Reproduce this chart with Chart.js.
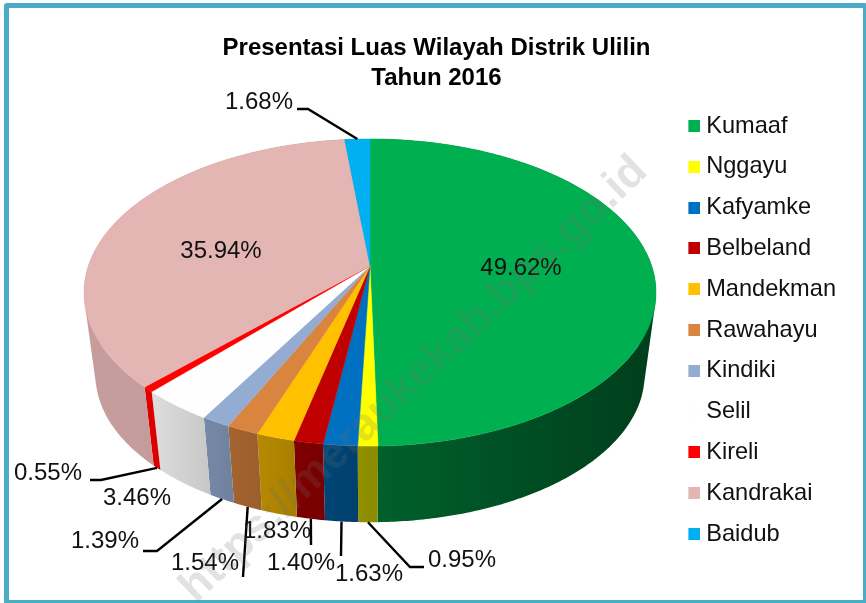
<!DOCTYPE html>
<html>
<head>
<meta charset="utf-8">
<title>Presentasi Luas Wilayah Distrik Ulilin</title>
<script src="https://cdn.jsdelivr.net/npm/chart.js@4"></script>
<style>
html, body { margin: 0; padding: 0; background: #fff; overflow: hidden; }
#frame { position: absolute; left: 4px; top: 3px; width: 854px; height: 592px; border: 5px solid #4bacc6; border-radius: 3px; }
#wrap { position: absolute; left: 0; top: 0; width: 866px; height: 603px; }
</style>
</head>
<body>
<div id="frame"></div>
<div id="wrap"><canvas id="pieChart" width="866" height="603"></canvas></div>
<script>
const categories = ['Kumaaf', 'Nggayu', 'Kafyamke', 'Belbeland', 'Mandekman', 'Rawahayu', 'Kindiki', 'Selil', 'Kireli', 'Kandrakai', 'Baidub'];
const percentages = [49.62, 0.95, 1.63, 1.40, 1.83, 1.54, 1.39, 3.46, 0.55, 35.94, 1.68];
const sliceColors = ['#00b050', '#ffff00', '#0070c0', '#c00000', '#ffc000', '#d9843f', '#95acd2', '#fefefe', '#ff0000', '#e3b5b3', '#00b0f0'];
const titleLines = ['Presentasi Luas Wilayah Distrik Ulilin', 'Tahun 2016'];

// where each percent label sits, and the bend of its leader line (null = no leader)
const labelSpots = [
    { x: 521, y: 268 }, { x: 462, y: 560, bend: [[424, 567], [410, 567]] }, { x: 369, y: 574, bend: [[341, 556]] },
    { x: 301, y: 563, bend: [[311, 545]] }, { x: 277, y: 531 }, { x: 205, y: 563, bend: [[243, 577]] },
    { x: 105, y: 541, bend: [[143, 551], [157, 551]] }, { x: 137, y: 498 }, { x: 48, y: 473, bend: [[90, 480], [101, 480]] },
    { x: 221, y: 251 }, { x: 259, y: 102, bend: [[297, 109], [308, 109]] }
];

// perspective of the tilted disc
const cx = 370, cy = 266, rx = 281.7, ry = 149, tilt = 0.1726;
const wallScale = 0.96, vanishY = 2350;

function rimTop(angle) {
    const ux = Math.cos(angle), uy = Math.sin(angle), w = 1 - tilt * uy;
    return [cx + rx * ux / w, cy + ry * uy / w];
}
function rimBottom(angle) {
    const p = rimTop(angle);
    return [cx + wallScale * (p[0] - cx), vanishY + wallScale * (p[1] - vanishY)];
}
function shade(hex, x) {
    const t = (x - cx) / 286;
    const f = t > 0 ? 0.55 - 0.2 * t : Math.min(0.87, 0.55 - 0.42 * t);
    const n = parseInt(hex.slice(1), 16);
    return `rgb(${((n >> 16) & 255) * f},${((n >> 8) & 255) * f},${(n & 255) * f})`;
}

// legend swatch: 12px square on the right of an 18px tile, so the label sits 6px from it
function swatch(color) {
    const c = document.createElement('canvas');
    c.width = 18;
    c.height = 12;
    const g = c.getContext('2d');
    g.fillStyle = color;
    g.fillRect(6, 0, 12, 12);
    return c;
}

const pie3d = {
    id: 'pie3d',
    beforeDatasetDraw(chart) {
        const ctx = chart.ctx;
        const arcs = chart.getDatasetMeta(0).data;
        ctx.save();

        // side wall of each slice, shaded from left to right
        arcs.forEach((arc, i) => {
            const steps = Math.max(4, Math.ceil((arc.endAngle - arc.startAngle) / 0.01));
            const top = [], bottom = [];
            for (let s = 0; s <= steps; s++) {
                const a = arc.startAngle + (arc.endAngle - arc.startAngle) * s / steps;
                top.push(rimTop(a));
                bottom.push(rimBottom(a));
            }
            const xs = top.concat(bottom).map(p => p[0]);
            const minX = Math.min(...xs), maxX = Math.max(...xs);
            const grad = ctx.createLinearGradient(minX, 0, maxX, 0);
            for (let g = 0; g <= 10; g++) {
                grad.addColorStop(g / 10, shade(sliceColors[i], minX + (maxX - minX) * g / 10));
            }
            // one path of quads, all wound the same way, so the fill has no seams
            ctx.beginPath();
            for (let s = 0; s < steps; s++) {
                const quad = [top[s], top[s + 1], bottom[s + 1], bottom[s]];
                const area = (quad[2][0] - quad[0][0]) * (quad[3][1] - quad[1][1]) - (quad[3][0] - quad[1][0]) * (quad[2][1] - quad[0][1]);
                if (area < 0) quad.reverse();
                ctx.moveTo(quad[0][0], quad[0][1]);
                ctx.lineTo(quad[1][0], quad[1][1]);
                ctx.lineTo(quad[2][0], quad[2][1]);
                ctx.lineTo(quad[3][0], quad[3][1]);
                ctx.closePath();
            }
            ctx.fillStyle = grad;
            ctx.fill();
        });

        // top face
        arcs.forEach((arc, i) => {
            ctx.beginPath();
            ctx.moveTo(cx, cy);
            const steps = Math.max(4, Math.ceil((arc.endAngle - arc.startAngle) / 0.01));
            for (let s = 0; s <= steps; s++) {
                const p = rimTop(arc.startAngle + (arc.endAngle - arc.startAngle) * s / steps);
                ctx.lineTo(p[0], p[1]);
            }
            ctx.closePath();
            ctx.fillStyle = sliceColors[i];
            ctx.strokeStyle = sliceColors[i];
            ctx.lineWidth = 0.5;
            ctx.fill();
            ctx.stroke();
        });

        ctx.restore();
        return false;
    },
    afterDatasetsDraw(chart) {
        const ctx = chart.ctx;
        const arcs = chart.getDatasetMeta(0).data;
        ctx.save();
        ctx.strokeStyle = '#000';
        ctx.lineWidth = 2.4;
        ctx.fillStyle = '#111';
        ctx.font = '24px "Liberation Sans"';
        ctx.textAlign = 'center';
        ctx.textBaseline = 'middle';
        percentages.forEach((v, i) => {
            const spot = labelSpots[i];
            if (spot.bend) {
                const mid = (arcs[i].startAngle + arcs[i].endAngle) / 2;
                const start = i === 10 ? rimTop(mid) : rimBottom(mid);
                ctx.beginPath();
                ctx.moveTo(start[0], start[1]);
                spot.bend.slice().reverse().forEach(p => ctx.lineTo(p[0], p[1]));
                ctx.stroke();
            }
            ctx.fillText(v.toFixed(2) + '%', spot.x, spot.y);
        });
        ctx.restore();

        // faint site watermark across the picture
        ctx.save();
        ctx.translate(196, 604);
        ctx.rotate(-0.76);
        ctx.font = 'bold 45px "Liberation Sans"';
        ctx.fillStyle = 'rgba(110,110,110,0.2)';
        ctx.textAlign = 'left';
        ctx.textBaseline = 'alphabetic';
        ctx.fillText('https://meraukekab.bps.go.id', 0, 0);
        ctx.restore();
    }
};

new Chart(document.getElementById('pieChart'), {
    type: 'pie',
    data: {
        labels: categories,
        datasets: [{ data: percentages, backgroundColor: sliceColors, borderWidth: 0 }]
    },
    options: {
        responsive: false,
        animation: false,
        layout: { padding: { top: 25, left: 27, right: 20, bottom: 40 } },
        plugins: {
            tooltip: { enabled: false },
            title: {
                display: true,
                text: titleLines,
                color: '#000',
                font: { family: '"Liberation Sans"', size: 24, weight: 'bold', lineHeight: 1.25 },
                padding: { top: 8, bottom: 8 }
            },
            legend: {
                position: 'right',
                align: 'end',
                labels: {
                    color: '#111',
                    font: { family: '"Liberation Sans"', size: 23.6 },
                    usePointStyle: true,
                    pointStyleWidth: 6,
                    padding: 17.2,
                    generateLabels(chart) {
                        return Chart.overrides.pie.plugins.legend.labels.generateLabels(chart)
                            .map((item, i) => ({ ...item, pointStyle: swatch(sliceColors[i]) }));
                    }
                }
            }
        }
    },
    plugins: [pie3d]
});
</script>
</body>
</html>
